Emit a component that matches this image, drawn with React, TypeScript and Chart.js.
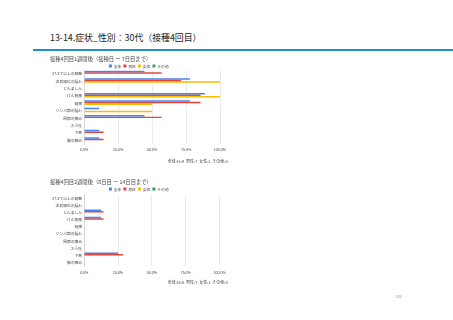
import React, { useEffect, useRef } from "react";
import { Chart, registerables } from "chart.js";
Chart.register(...registerables);

const pageTitle = "13-14.症状_性別：30代（接種4回目）";
const pageNumber = "108";
const categories = [
  "37.5℃以上の発熱",
  "注射部位の腫れ",
  "じんましん",
  "けん怠感",
  "頭痛",
  "リンパ節の腫れ",
  "関節の痛み",
  "おう吐",
  "下痢",
  "胸の痛み",
];
const seriesNames = ["全体", "男性", "女性", "その他"];
const seriesColors = ["#4285F4", "#EA4335", "#FBBC04", "#34A853"];
const tickValues = [0, 25, 50, 75, 100];

const week1Title = "接種4回目1週間後（接種日 ー 7日目まで）";
const week1Note = "全体:N=9  男性:7  女性:2  その他:0";
const week1All = [44.4, 77.8, 0, 88.9, 77.8, 11.1, 44.4, 0, 11.1, 11.1];
const week1Male = [57.1, 71.4, 0, 85.7, 85.7, 0, 57.1, 0, 14.3, 14.3];
const week1Female = [0, 100, 0, 100, 50, 50, 0, 0, 0, 0];
const week1Other = [0, 0, 0, 0, 0, 0, 0, 0, 0, 0];

const week2Title = "接種4回目2週間後（8日目 ー 14日目まで）";
const week2Note = "全体:N=8  男性:7  女性:1  その他:0";
const week2All = [0, 0, 12.5, 12.5, 0, 0, 0, 0, 25, 0];
const week2Male = [0, 0, 14.3, 14.3, 0, 0, 0, 0, 28.6, 0];
const week2Female = [0, 0, 0, 0, 0, 0, 0, 0, 0, 0];
const week2Other = [0, 0, 0, 0, 0, 0, 0, 0, 0, 0];

const FONT = "'Noto Sans CJK JP', 'Noto Sans', sans-serif";

type Props = {
  title: string;
  note: string;
  series: number[][];
  left: number;
  top: number;
  width: number;
  height: number;
  legendHeight: number;
  tickGap: number;
  noteGap: number;
  bottomPad: number;
};

function BarChart(props: Props) {
  const ref = useRef<HTMLCanvasElement | null>(null);
  useEffect(() => {
    if (!ref.current) return;
    const chart = new Chart(ref.current, {
      type: "bar",
      data: {
        labels: categories,
        datasets: props.series.map((d, i) => ({
          label: seriesNames[i],
          data: d,
          backgroundColor: seriesColors[i],
          borderWidth: 0,
          categoryPercentage: 0.85,
          barPercentage: 0.95,
        })),
      },
      options: {
        indexAxis: "y",
        responsive: false,
        animation: false,
        devicePixelRatio: 1,
        layout: { padding: { left: 2, right: 2.4, top: 0, bottom: 0 } },
        plugins: {
          title: {
            display: true,
            text: props.title,
            align: "start",
            color: "#444",
            font: { family: FONT, size: 5.3, weight: "normal" },
            padding: { top: 1.8, bottom: 0 },
          },
          subtitle: {
            display: true,
            text: props.note,
            position: "bottom",
            align: "end",
            color: "#444",
            font: { family: FONT, size: 4, weight: "normal" },
            padding: { top: props.noteGap, bottom: props.bottomPad },
          },
          legend: {
            display: true,
            position: "top",
            maxHeight: props.legendHeight,
            labels: {
              boxWidth: 3,
              boxHeight: 3,
              padding: 2,
              color: "#444",
              font: { family: FONT, size: 3.8 },
            },
          },
          tooltip: { enabled: false },
        },
        scales: {
          x: {
            min: 0,
            max: 100,
            afterBuildTicks: (axis: any) => {
              axis.ticks = tickValues.map((v) => ({ value: v }));
            },
            ticks: {
              color: "#444",
              font: { family: FONT, size: 3.6 },
              padding: props.tickGap,
              callback: (v: any) => Number(v).toFixed(1) + "%",
            },
            grid: { color: "#e3e3e3", lineWidth: 0.7, drawTicks: false },
            border: { display: false },
          },
          y: {
            ticks: {
              color: "#444",
              font: { family: FONT, size: 3.8 },
              padding: 2,
              autoSkip: false,
            },
            grid: { display: false, drawTicks: false },
            border: { display: true, color: "#cccccc", width: 0.7 },
          },
        },
      },
    } as any);
    return () => chart.destroy();
  }, []);
  return (
    <canvas
      ref={ref}
      width={props.width}
      height={props.height}
      style={{ position: "absolute", left: props.left, top: props.top, width: props.width, height: props.height }}
    />
  );
}

export default function App() {
  return (
    <div style={{ position: "fixed", left: 0, top: 0, width: 453, height: 320, background: "#fff", overflow: "hidden" }}>
      <div
        style={{
          position: "absolute",
          left: 50,
          top: 32,
          fontFamily: FONT,
          fontSize: 8.9,
          color: "#222",
          whiteSpace: "nowrap",
          lineHeight: "12px",
        }}
      >
        {pageTitle}
      </div>
      <div style={{ position: "absolute", left: 33, top: 48.5, width: 420, height: 2, background: "#1a8fd6" }} />
      <BarChart
        title={week1Title}
        note={week1Note}
        series={[week1All, week1Male, week1Female, week1Other]}
        left={47.5}
        top={54}
        width={182}
        height={111}
        legendHeight={8}
        tickGap={3.84}
        noteGap={2.6}
        bottomPad={1.6}
      />
      <BarChart
        title={week2Title}
        note={week2Note}
        series={[week2All, week2Male, week2Female, week2Other]}
        left={47.5}
        top={177}
        width={182}
        height={109}
        legendHeight={9.5}
        tickGap={4.2}
        noteGap={1}
        bottomPad={1.2}
      />
      <div
        style={{
          position: "absolute",
          left: 395,
          top: 294,
          fontFamily: FONT,
          fontSize: 4,
          color: "#999",
          lineHeight: "5px",
        }}
      >
        {pageNumber}
      </div>
    </div>
  );
}
